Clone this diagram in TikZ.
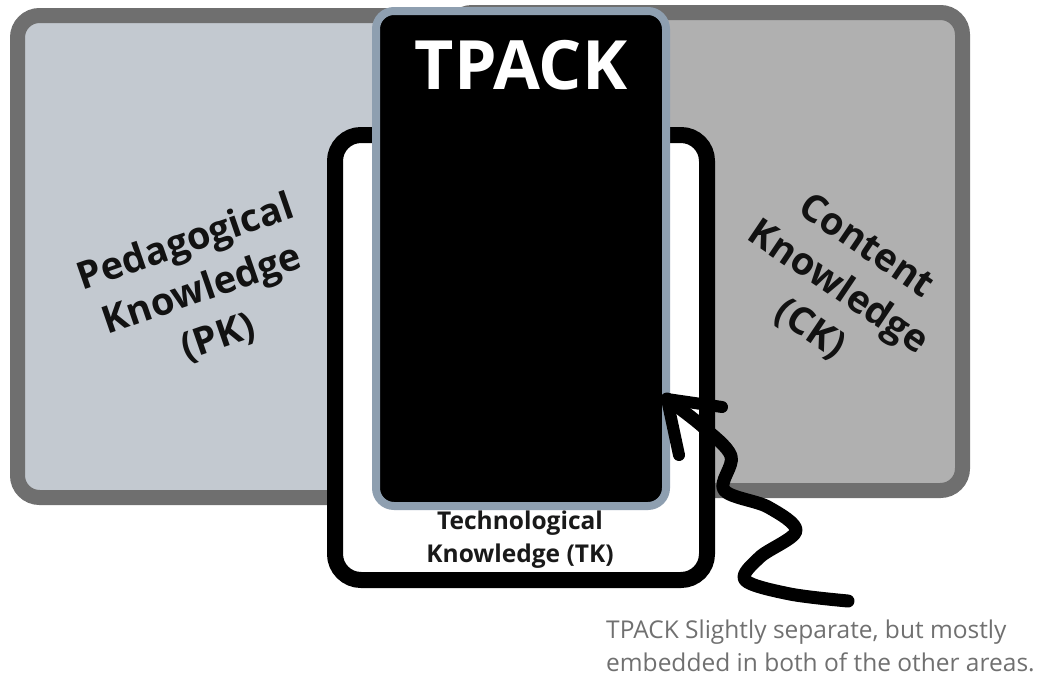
\documentclass[tikz,border=0pt]{standalone}
\usepackage{fontspec}
\setmainfont{Open Sans}
\begin{document}
\begin{tikzpicture}[x=1pt,y=-1pt,
  areabox/.style={line width=15pt, rounded corners=22pt},
  label/.style={font=\bfseries\fontsize{38}{50}\selectfont, text=black!93, align=center, inner sep=0pt},
  squiggle/.style={line width=13pt, line cap=round, line join=round}]
\useasboundingbox (0,0) rectangle (1042,680);
\definecolor{pkfill}{HTML}{C3C9D0}
\definecolor{ckfill}{HTML}{B0B0B0}
\definecolor{frame}{HTML}{6F6F6F}
\definecolor{tpackedge}{HTML}{8E9FB0}
\definecolor{caption}{HTML}{707070}

% pedagogical and content areas
\draw[areabox, draw=frame, fill=pkfill] (17.5,15.5) rectangle (600,497.5);
\draw[areabox, draw=frame, fill=ckfill] (450,12.5) rectangle (962.5,490.5);

% technological knowledge frame
\draw[line width=16pt, rounded corners=26pt, draw=black, fill=white] (335,135) rectangle (707,580);

% TPACK core
\draw[line width=8pt, rounded corners=18pt, draw=tpackedge, fill=black] (376,11) rectangle (666,506);

\node (tpack) [font=\bfseries\fontsize{68}{68}\selectfont, text=white, inner sep=0pt] at (521,65) {TPACK};
\node (pk) [label, rotate=19] at (202,290) {Pedagogical\\Knowledge\\(PK)};
\node (ck) [label, rotate=-34] at (838,288) {Content\\Knowledge\\(CK)};
\node (tk) [font=\bfseries\fontsize{24.5}{33}\selectfont, text=black!90, align=center, inner sep=0pt] at (520,540) {Technological\\Knowledge (TK)};
\node (note) [font=\fontsize{24.5}{33}\selectfont, text=caption, align=left, anchor=north west, inner sep=0pt] at (606,620) {TPACK Slightly separate, but mostly\\embedded in both of the other areas.};

% hand-drawn arrow pointing at the TPACK core
\coordinate (tip) at (667,399);
\draw[squiggle] plot[smooth, tension=0.55] coordinates {(848,601) (790,594) (745,580) (760,557) (796,531) (768,507) (724,490) (731,456) (702,426) (tip)};
\draw[line width=12pt, line cap=round] (tip) -- (722,407);
\draw[line width=12pt, line cap=round] (tip) -- (679,455);
\end{tikzpicture}
\end{document}
